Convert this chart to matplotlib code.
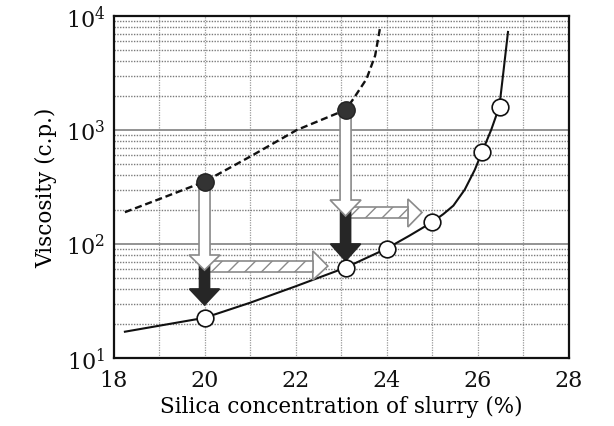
import matplotlib
matplotlib.use("Agg")
import matplotlib.pyplot as plt
from matplotlib.patches import Polygon
from matplotlib.ticker import FixedLocator, NullFormatter

plt.rcParams['font.family'] = 'DejaVu Serif'
plt.rcParams['mathtext.fontset'] = 'dejavuserif'
plt.rcParams['hatch.linewidth'] = 1.0

# measured slurry viscosity (open) and viscosity before treatment (filled)
open_x = [20.0, 23.1, 24.0, 25.0, 26.1, 26.5]
open_y = [22.5, 62, 91, 155, 640, 1600]
filled_x = [20.0, 23.1]
filled_y = [352, 1500]

# trend curves
solid_x = [18.25, 20.0, 21.0, 22.0, 23.1, 24.0, 24.5, 25.0, 25.25, 25.47, 25.72, 25.94, 26.1, 26.3, 26.48, 26.56, 26.67]
solid_y = [17, 22.5, 30.5, 42.5, 62, 91, 118, 155, 183, 217, 300, 447, 640, 1000, 1600, 3000, 7240]
dashed_x = [18.25, 19.0, 20.0, 21.0, 22.03, 23.1, 23.27, 23.56, 23.75, 23.86]
dashed_y = [190, 247, 352, 583, 1000, 1500, 1870, 2800, 4490, 7960]

x_ticks = [18, 20, 22, 24, 26, 28]
y_ticks = [10, 100, 1000, 10000]
y_tick_labels = [r'$10^1$', r'$10^2$', r'$10^3$', r'$10^4$']


def down_arrow(ax, x, y_top, y_base, y_tip, shaft_hw, head_hw, face, edge, z):
    pts = [(x - shaft_hw, y_top), (x + shaft_hw, y_top), (x + shaft_hw, y_base),
           (x + head_hw, y_base), (x, y_tip), (x - head_hw, y_base), (x - shaft_hw, y_base)]
    ax.add_patch(Polygon(pts, closed=True, facecolor=face, edgecolor=edge, lw=1.2, zorder=z))


def right_arrow(ax, x0, x_base, x_tip, y_lo, y_hi, head_lo, head_hi, y_mid):
    head = [(x_base, head_lo), (x_tip, y_mid), (x_base, head_hi)]
    ax.add_patch(Polygon(head, closed=True, facecolor='white', edgecolor='#8a8a8a', lw=1.2, zorder=3))
    shaft = [(x0, y_lo), (x_base, y_lo), (x_base, y_hi), (x0, y_hi)]
    ax.add_patch(Polygon(shaft, closed=True, facecolor='white', edgecolor='#8a8a8a',
                         hatch='//', lw=1.2, zorder=3))


fig = plt.figure(figsize=(6.14, 4.27), dpi=100)
ax = fig.add_axes([0.1849, 0.1593, 0.741, 0.801])
ax.set_yscale('log')
ax.set_xlim(18, 28)
ax.set_ylim(10, 10000)

# grid: dotted every unit / minor decade step, solid at decades
for xv in range(19, 28):
    ax.axvline(xv, color='#9a9a9a', lw=0.9, ls=(0, (1, 1)), zorder=1)
for dec in [10, 100, 1000]:
    for m in range(2, 10):
        ax.axhline(dec * m, color='#7a7a7a', lw=1.0, ls=(0, (1, 1)), zorder=1)
for yv in [100, 1000]:
    ax.axhline(yv, color='#8a8a8a', lw=1.3, zorder=1)

ax.plot(solid_x, solid_y, color='#111111', lw=1.5, zorder=2)
ax.plot(dashed_x, dashed_y, color='#111111', lw=1.7, ls=(0, (3, 1.6)), zorder=2)

# treatment arrows
down_arrow(ax, 20.0, 80, 40.3, 29.2, 0.11, 0.33, '#262626', '#262626', 3.5)
down_arrow(ax, 20.0, 352, 80, 59, 0.121, 0.34, 'white', '#8a8a8a', 4)
down_arrow(ax, 23.1, 243, 100, 71, 0.11, 0.33, '#262626', '#262626', 3.5)
down_arrow(ax, 23.1, 1500, 243, 176, 0.121, 0.34, 'white', '#8a8a8a', 4)
right_arrow(ax, 20.05, 22.38, 22.71, 56.8, 71, 48.3, 86.9, 64)
right_arrow(ax, 23.15, 24.47, 24.78, 169, 211, 141, 248, 189)

ax.plot(filled_x, filled_y, 'o', ms=12.5, mfc='#333333', mec='#222222', mew=1, zorder=5)
ax.plot(open_x, open_y, 'o', ms=12, mfc='white', mec='#111111', mew=1.2, zorder=5)

ax.xaxis.set_major_locator(FixedLocator(x_ticks))
ax.yaxis.set_major_locator(FixedLocator(y_ticks))
ax.yaxis.set_minor_formatter(NullFormatter())
ax.set_yticklabels(y_tick_labels)
ax.tick_params(which='both', length=0, labelsize=16, colors='#111111')
ax.tick_params(axis='x', pad=8)
ax.tick_params(axis='y', pad=6)
for sp in ax.spines.values():
    sp.set_linewidth(1.6)
    sp.set_color('#111111')

ax.set_xlabel('Silica concentration of slurry (%)', fontsize=15.5, labelpad=3)
ax.set_ylabel('Viscosity (c.p.)', fontsize=15.5, labelpad=6)

fig.savefig('out.png', dpi=100)
